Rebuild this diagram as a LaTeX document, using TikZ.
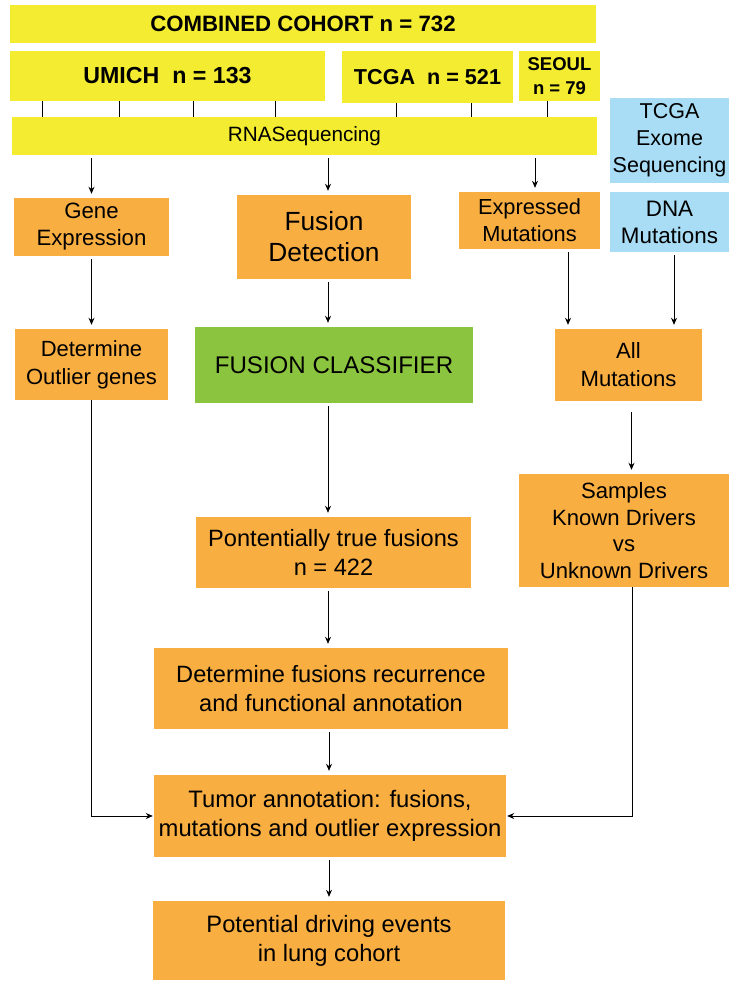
\documentclass[tikz,border=0pt]{standalone}
\usepackage{fontspec}
\setmainfont{Liberation Sans}
\usetikzlibrary{arrows.meta}

\definecolor{cohortyellow}{RGB}{244,236,48}
\definecolor{steporange}{RGB}{249,174,66}
\definecolor{classgreen}{RGB}{139,197,64}
\definecolor{exomeblue}{RGB}{168,221,245}

\newcommand{\fs}[2]{\fontsize{#1}{#2}\selectfont}

\tikzset{
  box/.style={rectangle, inner sep=0pt, align=center, text=black},
  ybox/.style={box, fill=cohortyellow, font=\bfseries},
  obox/.style={box, fill=steporange},
  gbox/.style={box, fill=classgreen},
  bbox/.style={box, fill=exomeblue},
  arr/.style={-{Stealth[length=7pt,width=6pt]}, line width=0.8pt, shorten <=3pt, shorten >=4pt},
  tick/.style={line width=0.8pt}
}

\begin{document}
\begin{tikzpicture}[x=1pt, y=-1pt]

	\useasboundingbox (0,0) rectangle (730,981);

	% cohorts
	\node[ybox, minimum width=586, minimum height=38, font=\bfseries\fs{22.2}{26}] (combined) at (303,24) {COMBINED COHORT n = 732};
	\node[ybox, minimum width=315, minimum height=50, font=\bfseries\fs{23.2}{27}] (umich) at (167.5,76) {UMICH~~n = 133};
	\node[ybox, minimum width=171, minimum height=52, font=\bfseries\fs{21.6}{26}] (tcga) at (427.5,77) {TCGA~~n = 521};
	\node[ybox, minimum width=81, minimum height=50, font=\bfseries\fs{18.5}{24}] (seoul) at (559.5,76) {SEOUL\\n = 79};

	\node[ybox, font=\fs{20.7}{26}, minimum width=585, minimum height=38] (rnaseq) at (304.5,136) {RNASequencing};
	\node[bbox, font=\fs{21.5}{27}, minimum width=119, minimum height=85] (exome) at (669.5,140.5) {TCGA\\Exome\\Sequencing};

	\foreach \x in {42,119,193,275}
		\draw[tick] (umich.south -| \x,0) -- (rnaseq.north -| \x,0);
	\foreach \x in {396,471}
		\draw[tick] (tcga.south -| \x,0) -- (rnaseq.north -| \x,0);
	\draw[tick] (seoul.south -| 547,0) -- (rnaseq.north -| 547,0);

	% first level
	\node[obox, font=\fs{22.2}{27}, minimum width=155, minimum height=58] (geneexp) at (91.5,227) {Gene\\Expression};
	\node[obox, font=\fs{26.3}{31}, minimum width=174, minimum height=84] (fusiondet) at (324,237) {Fusion\\Detection};
	\node[obox, font=\fs{21.8}{27}, minimum width=141, minimum height=57] (exprmut) at (529.5,220.5) {Expressed\\Mutations};
	\node[bbox, font=\fs{22.4}{27}, minimum width=119, minimum height=60] (dnamut) at (669.5,222) {DNA\\Mutations};

	% second level
	\node[obox, font=\fs{22}{28}, minimum width=153, minimum height=71] (outlier) at (91.5,364.5) {Determine\\Outlier genes};
	\node[gbox, font=\fs{24.1}{29}, minimum width=278, minimum height=76] (classifier) at (334,365) {FUSION CLASSIFIER};
	\node[obox, font=\fs{22.1}{28}, minimum width=147, minimum height=72] (allmut) at (628.5,365) {All\\Mutations};

	\node[obox, font=\fs{22.1}{26.5}, minimum width=210, minimum height=113] (samples) at (624,530.5) {Samples\\Known Drivers\\vs\\Unknown Drivers};
	\node[obox, font=\fs{23.6}{29}, minimum width=275, minimum height=71] (pontent) at (333.5,552.5) {Pontentially true fusions\\n = 422};
	\node[obox, font=\fs{23.6}{29}, minimum width=354, minimum height=81] (recur) at (331,688.5) {Determine fusions recurrence\\and functional annotation};
	\node[obox, font=\fs{23.8}{29}, minimum width=352, minimum height=82] (tumor) at (330,816) {Tumor annotation: fusions,\\mutations and outlier expression};
	\node[obox, font=\fs{23.7}{29}, minimum width=352, minimum height=79] (potential) at (329,940.5) {Potential driving events\\in lung cohort};

	% arrows
	\draw[arr] (rnaseq.south -| geneexp.north) -- (geneexp.north);
	\draw[arr] ([xshift=4pt]rnaseq.south -| fusiondet.north) -- ([xshift=4pt]fusiondet.north);
	\draw[arr] ([xshift=5.5pt]rnaseq.south -| exprmut.north) -- ([xshift=5.5pt]exprmut.north);

	\draw[arr] (geneexp.south) -- (geneexp.south |- outlier.north);
	\draw[arr] ([xshift=4pt]fusiondet.south) -- ([xshift=4pt]fusiondet.south |- classifier.north);
	\draw[arr] ([xshift=38.5pt]exprmut.south) -- ([xshift=38.5pt]exprmut.south |- allmut.north);
	\draw[arr] ([xshift=4.5pt]dnamut.south) -- ([xshift=4.5pt]dnamut.south |- allmut.north);

	\draw[arr, shorten <=11pt] ([xshift=3pt]allmut.south) -- ([xshift=3pt]allmut.south |- samples.north);
	\draw[arr] ([xshift=-6pt]classifier.south) -- ([xshift=-6pt]classifier.south |- pontent.north);
	\draw[arr] ([xshift=-5.5pt]pontent.south) -- ([xshift=-5.5pt]pontent.south |- recur.north);
	\draw[arr] ([xshift=-2pt]recur.south) -- ([xshift=-2pt]recur.south |- tumor.north);
	\draw[arr] ([xshift=-1pt]tumor.south) -- ([xshift=-1pt]tumor.south |- potential.north);

	\draw[arr, shorten <=0pt, shorten >=1pt] (outlier.south) |- (tumor.west);
	\draw[arr, shorten <=0pt, shorten >=1pt] ([xshift=8pt]samples.south) |- (tumor.east);

\end{tikzpicture}
\end{document}
